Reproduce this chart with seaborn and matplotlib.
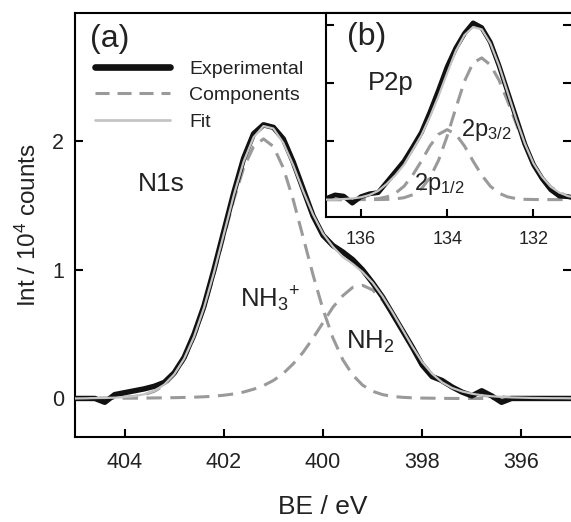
import numpy as np
import pandas as pd
import matplotlib
matplotlib.use("Agg")
import matplotlib.pyplot as plt
from matplotlib.lines import Line2D
import seaborn as sns

# ---------------- N1s region (main panel) ----------------
n1s_be = np.round(np.linspace(405.0, 395.0, 51), 1)
n1s_exp = [0.0, 0.0, 0.0, -0.03, 0.03, 0.045, 0.06, 0.075, 0.095, 0.125,
           0.2, 0.32, 0.5, 0.72, 1.0, 1.3, 1.6, 1.87, 2.06, 2.13,
           2.11, 2.02, 1.84, 1.63, 1.42, 1.27, 1.19, 1.14, 1.08, 1.0,
           0.9, 0.79, 0.66, 0.53, 0.4, 0.26, 0.17, 0.14, 0.09, 0.05,
           0.02, 0.06, 0.02, -0.03, 0.0, 0.0, 0.0, 0.0, 0.0, 0.0, 0.0]
n1s_fit = [0.0, 0.001, 0.003, 0.004, 0.006, 0.011, 0.018, 0.033, 0.060, 0.108,
           0.188, 0.309, 0.481, 0.706, 0.979, 1.279, 1.580, 1.844, 2.033, 2.12,
           2.101, 1.989, 1.815, 1.614, 1.431, 1.283, 1.181, 1.101, 1.047, 0.983,
           0.901, 0.795, 0.671, 0.539, 0.405, 0.283, 0.192, 0.126, 0.082, 0.055,
           0.037, 0.025, 0.017, 0.012, 0.008, 0.006, 0.004, 0.003, 0.002, 0.002, 0.001]
n1s_nh3 = [0.0, 0.001, 0.002, 0.003, 0.005, 0.009, 0.016, 0.03, 0.056, 0.103,
           0.182, 0.301, 0.471, 0.693, 0.961, 1.254, 1.545, 1.794, 1.961, 2.02,
           1.961, 1.794, 1.545, 1.254, 0.961, 0.693, 0.471, 0.301, 0.182, 0.103,
           0.056, 0.03, 0.016, 0.009, 0.005, 0.003, 0.002, 0.001, 0.0, 0.0,
           0.0, 0.0, 0.0, 0.0, 0.0, 0.0, 0.0, 0.0, 0.0, 0.0, 0.0]
n1s_nh2 = [0.0, 0.0, 0.001, 0.001, 0.001, 0.002, 0.002, 0.003, 0.004, 0.005,
           0.006, 0.008, 0.010, 0.013, 0.018, 0.025, 0.035, 0.05, 0.072, 0.10,
           0.14, 0.195, 0.27, 0.36, 0.47, 0.59, 0.71, 0.80, 0.865, 0.88,
           0.845, 0.765, 0.655, 0.53, 0.40, 0.28, 0.19, 0.125, 0.082, 0.055,
           0.037, 0.025, 0.017, 0.012, 0.008, 0.006, 0.004, 0.003, 0.002, 0.002, 0.001]

# ---------------- P2p region (inset) ----------------
p2p_be = np.round(np.linspace(136.8, 131.0, 30), 1)
p2p_exp = [0.02, 0.08, 0.06, -0.06, 0.05, 0.1, 0.12, 0.3, 0.48, 0.66,
           0.9, 1.15, 1.5, 1.88, 2.28, 2.6, 2.85, 3.03, 2.95, 2.7,
           2.3, 1.85, 1.4, 0.95, 0.6, 0.36, 0.17, 0.06, 0.05, 0.02]
p2p_fit = [0.0, 0.0, 0.01, 0.02, 0.04, 0.08, 0.15, 0.27, 0.42, 0.60,
           0.85, 1.10, 1.42, 1.78, 2.17, 2.55, 2.82, 2.96, 2.92, 2.68,
           2.30, 1.84, 1.38, 0.96, 0.62, 0.39, 0.22, 0.12, 0.06, 0.03]
p2p_32 = [0.0, 0.0, 0.0, 0.0, 0.0, 0.0, 0.001, 0.004, 0.012, 0.033,
          0.083, 0.186, 0.375, 0.675, 1.09, 1.57, 2.03, 2.345, 2.43, 2.31,
          2.05, 1.69, 1.30, 0.93, 0.62, 0.385, 0.22, 0.12, 0.06, 0.028]
p2p_12 = [0.0, 0.0, 0.0, 0.001, 0.002, 0.005, 0.017, 0.047, 0.11, 0.23,
          0.42, 0.66, 0.92, 1.12, 1.2, 1.12, 0.92, 0.66, 0.42, 0.23,
          0.11, 0.047, 0.017, 0.005, 0.002, 0.001, 0.0, 0.0, 0.0, 0.0]

n1s_ticks = [404, 402, 400, 398, 396]
p2p_ticks = [136, 134, 132]
legend_labels = ["Experimental", "Components", "Fit"]

# ---------------- styling ----------------
sns.set_style("ticks")
plt.rcParams["font.family"] = ["Liberation Sans", "DejaVu Sans"]
plt.rcParams["mathtext.fontset"] = "custom"
plt.rcParams["mathtext.rm"] = "Liberation Sans"
plt.rcParams["mathtext.it"] = "Liberation Sans"
plt.rcParams["mathtext.default"] = "regular"

TXT = "#222222"
EXP_C = "#111111"
COMP_C = "#9a9a9a"
FIT_C = "#c4c4c4"
DASH = (0, (5, 2.8))

W, H = 571, 522
fig = plt.figure(figsize=(W / 100, H / 100), dpi=100)
fig.patch.set_facecolor("white")

ax = fig.add_axes([75 / W, 85 / H, 496 / W, 424 / H])
axin = fig.add_axes([326 / W, (H - 216.7) / H, 245 / W, 203.7 / H])


def draw_spectrum(a, be, exp, fit, comps, exp_lw, fit_lw, comp_lw):
    for c in comps:
        sns.lineplot(x=be, y=c, ax=a, color=COMP_C, lw=comp_lw,
                     linestyle=DASH, sort=False, zorder=2)
    sns.lineplot(x=be, y=exp, ax=a, color=EXP_C, lw=exp_lw, sort=False, zorder=3)
    sns.lineplot(x=be, y=fit, ax=a, color=FIT_C, lw=fit_lw, sort=False, zorder=4)


draw_spectrum(ax, n1s_be, n1s_exp, n1s_fit, [n1s_nh3, n1s_nh2], 3.9, 1.6, 2.2)
draw_spectrum(axin, p2p_be, p2p_exp, p2p_fit, [p2p_32, p2p_12], 3.5, 1.6, 2.2)

for a in (ax, axin):
    a.set_xlabel("")
    a.set_ylabel("")
    a.spines["right"].set_visible(False)
    for s in ("left", "bottom", "top"):
        a.spines[s].set_linewidth(1.5)
        a.spines[s].set_color("black")
    a.set_facecolor("white")

# main axes
ax.set_xlim(405, 395)
ax.set_ylim(-0.3, 3.0)
ax.set_xticks(n1s_ticks)
ax.set_xticklabels([str(t) for t in n1s_ticks])
ax.set_yticks([0, 1, 2])
ax.set_yticklabels(["0", "1", "2"])
ax.tick_params(axis="both", direction="in", length=6, width=1.5,
               labelsize=15.5, colors="black", labelcolor=TXT)
ax.tick_params(axis="x", pad=11)
ax.tick_params(axis="y", pad=8, right=True, labelright=False)
ax.set_xlabel("BE / eV", fontsize=19, color=TXT, labelpad=16)
ax.set_ylabel("Int / 10$^{4}$ counts", fontsize=17.5, color=TXT, labelpad=8)

# inset axes
axin.set_xlim(136.81, 131.13)
axin.set_ylim(-0.293, 3.2)
axin.set_xticks(p2p_ticks)
axin.set_xticklabels([str(t) for t in p2p_ticks])
axin.set_yticks([1, 2, 3])
axin.tick_params(axis="both", direction="in", length=6, width=1.5,
                 labelsize=13, colors="black", labelcolor=TXT)
axin.tick_params(axis="x", pad=10)
axin.tick_params(axis="y", right=True, labelleft=False, labelright=False)

# panel labels and peak assignments
ax.text(404.31, 2.80, "(a)", fontsize=23, color=TXT, ha="center", va="center")
ax.text(403.26, 1.67, "N1s", fontsize=19, color=TXT, ha="center", va="center")
ax.text(401.67, 0.711, "NH$_{3}{}^{+}$", fontsize=18.5, color=TXT,
        ha="left", va="baseline")
ax.text(399.53, 0.39, "NH$_{2}$", fontsize=18.5, color=TXT,
        ha="left", va="baseline")

axin.text(135.87, 2.78, "(b)", fontsize=23, color=TXT, ha="center", va="center")
axin.text(135.84, 1.88, "P2p", fontsize=18.5, color=TXT, ha="left", va="baseline")
axin.text(133.68, 1.09, "2p$_{3/2}$", fontsize=17, color=TXT, ha="left", va="baseline")
axin.text(134.77, 0.17, "2p$_{1/2}$", fontsize=17, color=TXT, ha="left", va="baseline")

handles = [
    Line2D([], [], color=EXP_C, lw=4.8),
    Line2D([], [], color=COMP_C, lw=2.2, linestyle=(0, (4.6, 2.6))),
    Line2D([], [], color=FIT_C, lw=2.0),
]
leg = ax.legend(handles, legend_labels, loc="upper left",
                bbox_to_anchor=(95 / W, 1 - 60 / H), bbox_transform=fig.transFigure,
                frameon=False, fontsize=14, handlelength=3.85, handletextpad=1.0,
                labelspacing=0.46, borderpad=0, borderaxespad=0)
for t in leg.get_texts():
    t.set_color(TXT)

fig.savefig("out.png", dpi=100, facecolor="white")
